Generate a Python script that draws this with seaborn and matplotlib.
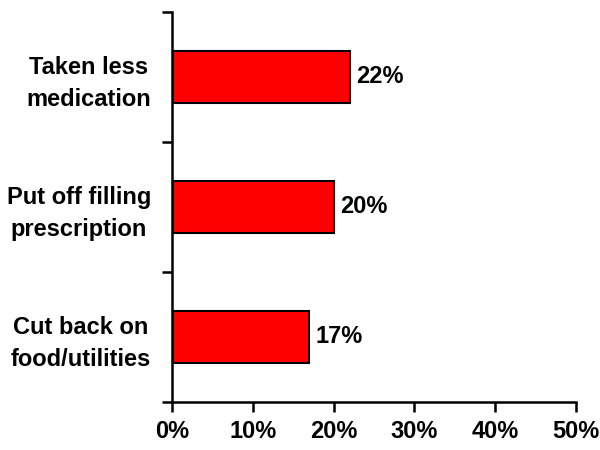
import matplotlib
matplotlib.use("Agg")
import matplotlib.pyplot as plt
from matplotlib.ticker import FixedLocator, FuncFormatter
import seaborn as sns
import pandas as pd

categories = ["Taken less\nmedication", "Put off filling\nprescription", "Cut back on\nfood/utilities"]
values = [22, 20, 17]
x_ticks = [0, 10, 20, 30, 40, 50]

sns.set_style("white")
plt.rcParams["font.family"] = ["Liberation Sans", "DejaVu Sans"]
plt.rcParams["font.weight"] = "bold"
plt.rcParams["text.color"] = "black"
plt.rcParams["xtick.color"] = "black"
plt.rcParams["ytick.color"] = "black"
plt.rcParams["axes.labelcolor"] = "black"

FS = 17

df = pd.DataFrame({"category": categories, "value": values})

fig = plt.figure(figsize=(6, 4.5), dpi=100)
ax = fig.add_axes([0.2867, 0.1067, 0.6733, 0.8667])

sns.barplot(data=df, x="value", y="category", orient="h", color="#FF0000",
            saturation=1, width=0.4, edgecolor="black", linewidth=1.5, ax=ax)

ax.set_xlim(0, 50)
ax.set_ylim(2.5, -0.5)
ax.set_xticks(x_ticks)
ax.xaxis.set_major_formatter(FuncFormatter(lambda v, p: f"{v:.0f}%"))
ax.set_xlabel("")
ax.set_ylabel("")

for i, v in enumerate(values):
    ax.text(v + 0.8, i, f"{v}%", va="center", ha="left", fontsize=FS,
            fontweight="bold", color="black")

# category boundaries carry the y tick marks; labels sit at bar centres
ax.yaxis.set_minor_locator(FixedLocator([-0.5, 0.5, 1.5, 2.5]))
ax.tick_params(axis="y", which="major", length=0, pad=15, labelsize=FS)
ax.tick_params(axis="y", which="minor", length=7, width=1.8, color="black", left=True)
ax.tick_params(axis="x", which="major", length=7, width=1.8, color="black",
               bottom=True, pad=6, labelsize=FS)
for lbl in ax.get_yticklabels():
    lbl.set_horizontalalignment("right")
    lbl.set_multialignment("center")
    lbl.set_fontweight("bold")
    lbl.set_linespacing(1.5)
for lbl in ax.get_xticklabels():
    lbl.set_fontweight("bold")

sns.despine(ax=ax, top=True, right=True)
for s in ("left", "bottom"):
    ax.spines[s].set_color("black")
    ax.spines[s].set_linewidth(1.8)

fig.savefig("out.png", dpi=100)
